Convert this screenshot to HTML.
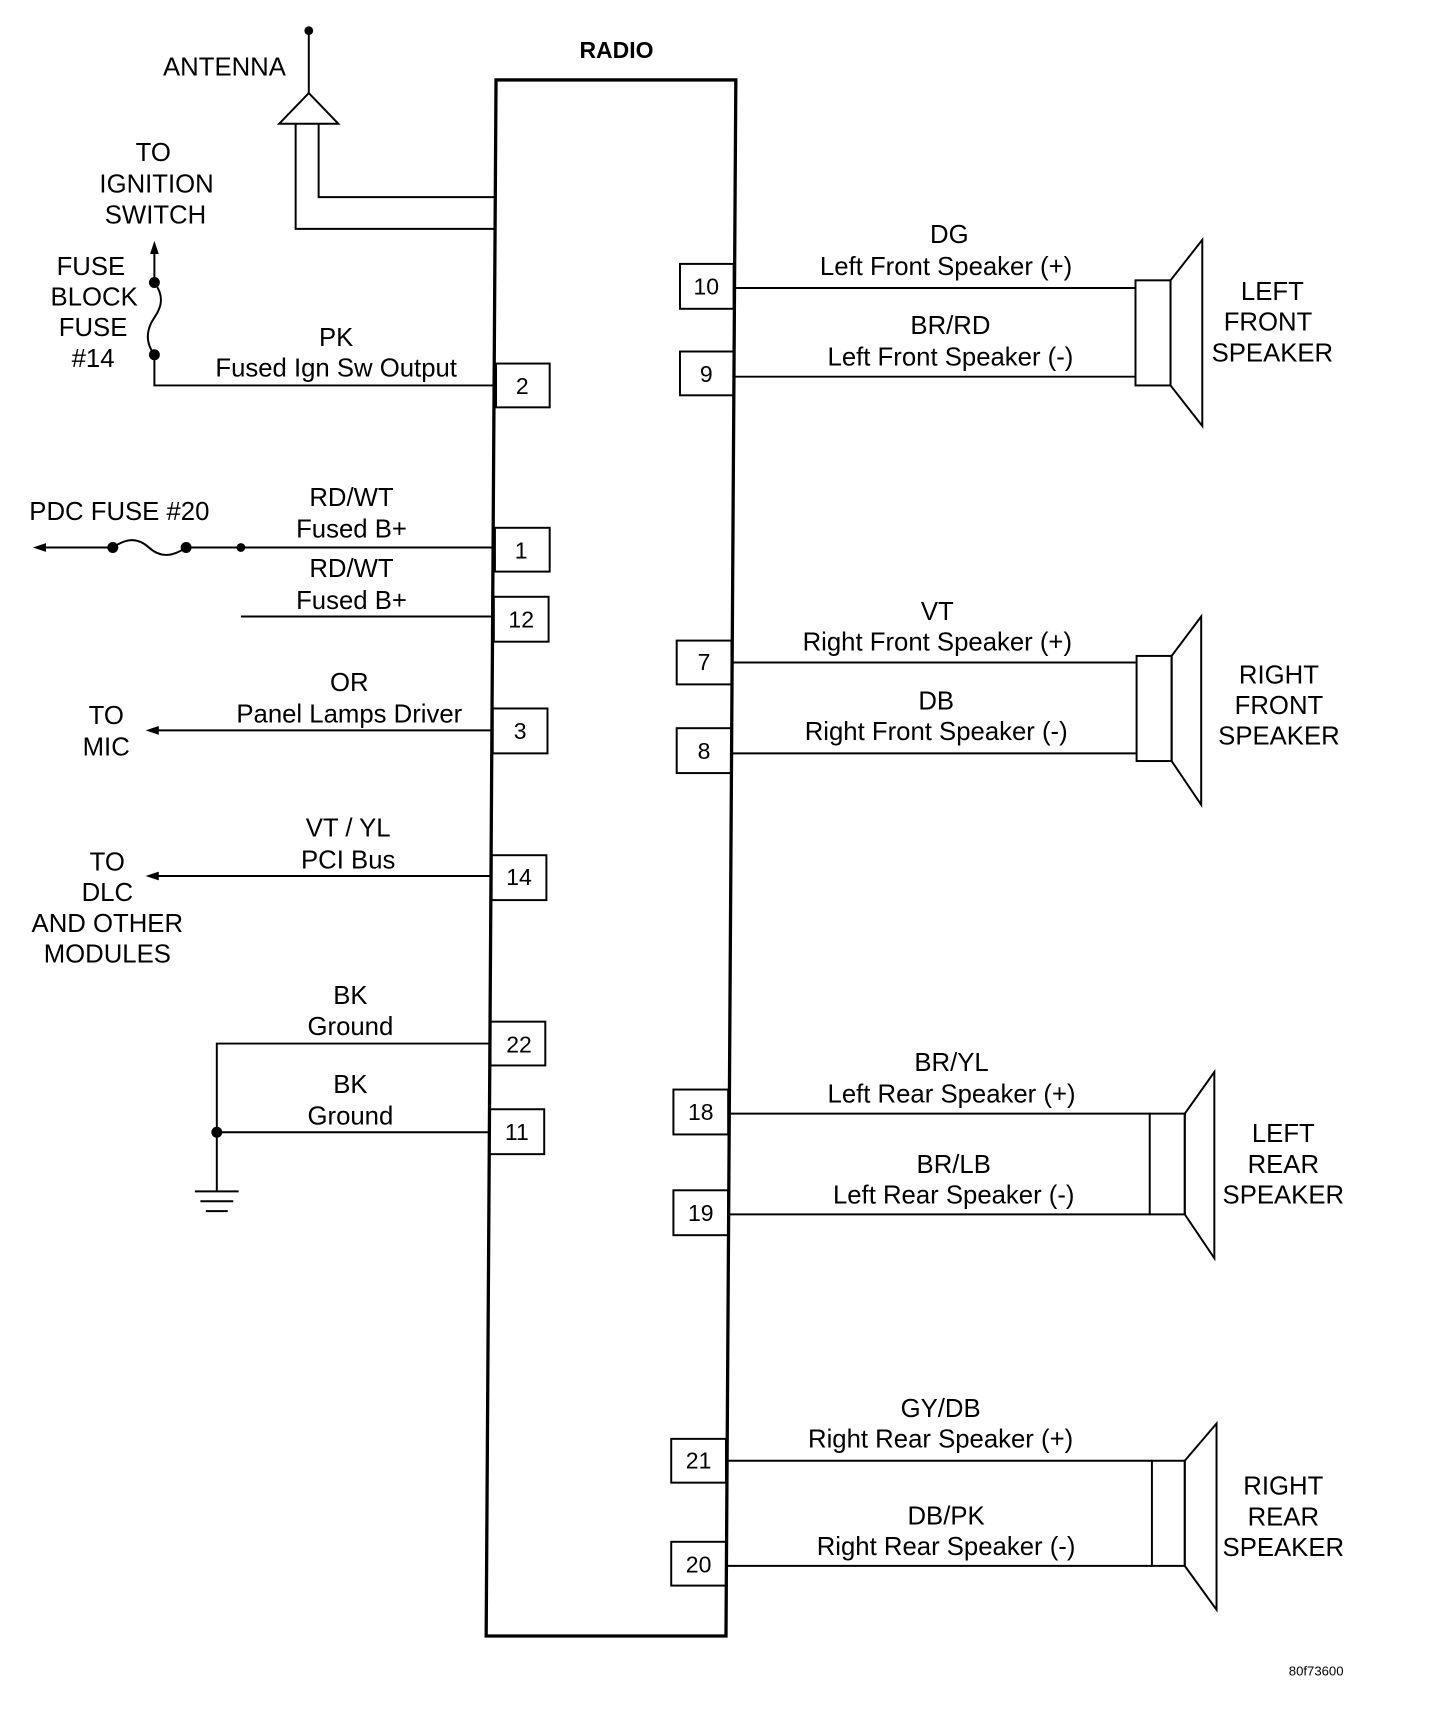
<!DOCTYPE html>
<html><head><style>
html,body{margin:0;padding:0;background:#fff;}
svg{display:block;}
text{font-family:"Liberation Sans",Arial,sans-serif;fill:#000;}
</style></head><body>
<svg width="1456" height="1724" viewBox="0 0 1329.7 1574.4" preserveAspectRatio="none" xmlns="http://www.w3.org/2000/svg">
<g fill="none" stroke="#000" stroke-width="1.8">
<polygon points="453,73 672,73 663,1494 444,1494" stroke-width="3"/>
<line x1="282" y1="28" x2="282" y2="85"/>
<polygon points="282,85 255,113 309,113"/>
<polyline points="270,113 270,209 453,209"/>
<polyline points="291,113 291,180 453,180"/>
<line x1="141" y1="258" x2="141" y2="226"/>
<path d="M141,258 C150,270 148,280 141,290 C134,300 132,312 141,324"/>
<polyline points="141,324 141,352 453,352"/>
<line x1="36" y1="500" x2="103" y2="500"/>
<path d="M103,500 C115,492 125,490 136,500 C147,510 158,508 170,500"/>
<line x1="170" y1="500" x2="452" y2="500"/>
<line x1="220" y1="563" x2="451" y2="563"/>
<line x1="140" y1="667" x2="450" y2="667"/>
<line x1="140" y1="800" x2="449" y2="800"/>
<polyline points="448,953 198,953 198,1088"/>
<line x1="198" y1="1034" x2="447" y2="1034"/>
<line x1="178" y1="1088" x2="218" y2="1088"/>
<line x1="183" y1="1097" x2="213" y2="1097"/>
<line x1="188" y1="1106" x2="208" y2="1106"/>
<rect x="453" y="332" width="49" height="40"/>
<rect x="452" y="482" width="50" height="40"/>
<rect x="451" y="545" width="50" height="41"/>
<rect x="450" y="647" width="50" height="41"/>
<rect x="449" y="781" width="50" height="41"/>
<rect x="448" y="933" width="50" height="40"/>
<rect x="447" y="1013" width="50" height="41"/>
<rect x="621" y="241" width="49" height="41"/>
<rect x="621" y="321" width="49" height="40"/>
<rect x="618" y="585" width="50" height="40"/>
<rect x="618" y="665" width="50" height="41"/>
<rect x="615" y="995" width="50" height="41"/>
<rect x="615" y="1087" width="50" height="41"/>
<rect x="613" y="1314" width="50" height="40"/>
<rect x="613" y="1408" width="50" height="40"/>
<line x1="670" y1="263" x2="1037" y2="263"/>
<line x1="670" y1="344" x2="1037" y2="344"/>
<line x1="668" y1="605" x2="1038" y2="605"/>
<line x1="668" y1="688" x2="1038" y2="688"/>
<line x1="665" y1="1017" x2="1050" y2="1017"/>
<line x1="665" y1="1109" x2="1050" y2="1109"/>
<line x1="663" y1="1334" x2="1052" y2="1334"/>
<line x1="663" y1="1430" x2="1052" y2="1430"/>
<rect x="1037" y="256" width="32" height="96"/>
<polygon points="1069,256 1098,219 1098,389 1069,352"/>
<rect x="1038" y="599" width="32" height="96"/>
<polygon points="1070,599 1097,563 1097,735 1070,695"/>
<rect x="1050" y="1017" width="32" height="92"/>
<polygon points="1082,1017 1109,979 1109,1149 1082,1109"/>
<rect x="1052" y="1334" width="30" height="96"/>
<polygon points="1082,1334 1111,1300 1111,1470 1082,1430"/>
</g>
<g fill="#000">
<circle cx="282" cy="28" r="4"/>
<circle cx="141" cy="258" r="5"/>
<circle cx="141" cy="324" r="5"/>
<polygon points="141,220 137,232 145,232"/>
<polygon points="30,500 42,496 42,504"/>
<circle cx="103" cy="500" r="5"/>
<circle cx="170" cy="500" r="5"/>
<circle cx="220" cy="500" r="4"/>
<polygon points="133,667 145,663 145,671"/>
<polygon points="133,800 145,796 145,804"/>
<circle cx="198" cy="1034" r="5"/>
</g>
<g font-size="23.5" text-anchor="middle">
<text x="563" y="53" font-weight="bold" font-size="21">RADIO</text>
<text x="205" y="69">ANTENNA</text>
<text x="140" y="147">TO</text>
<text x="143" y="176">IGNITION</text>
<text x="142" y="204">SWITCH</text>
<text x="83" y="251">FUSE</text>
<text x="86" y="279">BLOCK</text>
<text x="85" y="307">FUSE</text>
<text x="85" y="335">#14</text>
<text x="307" y="316">PK</text>
<text x="307" y="344">Fused Ign Sw Output</text>
<text x="109" y="475">PDC FUSE #20</text>
<text x="321" y="462">RD/WT</text>
<text x="321" y="491">Fused B+</text>
<text x="321" y="527">RD/WT</text>
<text x="321" y="556">Fused B+</text>
<text x="319" y="631">OR</text>
<text x="319" y="660">Panel Lamps Driver</text>
<text x="97" y="661">TO</text>
<text x="97" y="690">MIC</text>
<text x="318" y="764">VT / YL</text>
<text x="318" y="793">PCI Bus</text>
<text x="98" y="795">TO</text>
<text x="98" y="823">DLC</text>
<text x="98" y="851">AND OTHER</text>
<text x="98" y="879">MODULES</text>
<text x="320" y="917">BK</text>
<text x="320" y="945">Ground</text>
<text x="320" y="998">BK</text>
<text x="320" y="1027">Ground</text>
<g font-size="21">
<text x="477" y="360">2</text>
<text x="476" y="510">1</text>
<text x="476" y="573">12</text>
<text x="475" y="675">3</text>
<text x="474" y="808">14</text>
<text x="474" y="961">22</text>
<text x="472" y="1041">11</text>
<text x="645" y="269">10</text>
<text x="645" y="349">9</text>
<text x="643" y="612">7</text>
<text x="643" y="693">8</text>
<text x="640" y="1023">18</text>
<text x="640" y="1115">19</text>
<text x="638" y="1341">21</text>
<text x="638" y="1436">20</text>
</g>
<text x="867" y="222">DG</text>
<text x="864" y="251">Left Front Speaker (+)</text>
<text x="868" y="305">BR/RD</text>
<text x="868" y="334">Left Front Speaker (-)</text>
<text x="856" y="566">VT</text>
<text x="856" y="594">Right Front Speaker (+)</text>
<text x="855" y="648">DB</text>
<text x="855" y="676">Right Front Speaker (-)</text>
<text x="869" y="978">BR/YL</text>
<text x="869" y="1007">Left Rear Speaker (+)</text>
<text x="871" y="1071">BR/LB</text>
<text x="871" y="1099">Left Rear Speaker (-)</text>
<text x="859" y="1294">GY/DB</text>
<text x="859" y="1322">Right Rear Speaker (+)</text>
<text x="864" y="1392">DB/PK</text>
<text x="864" y="1420">Right Rear Speaker (-)</text>
<text x="1162" y="274">LEFT</text>
<text x="1158" y="302">FRONT</text>
<text x="1162" y="330">SPEAKER</text>
<text x="1168" y="624">RIGHT</text>
<text x="1168" y="652">FRONT</text>
<text x="1168" y="680">SPEAKER</text>
<text x="1172" y="1043">LEFT</text>
<text x="1172" y="1071">REAR</text>
<text x="1172" y="1099">SPEAKER</text>
<text x="1172" y="1365">RIGHT</text>
<text x="1172" y="1393">REAR</text>
<text x="1172" y="1421">SPEAKER</text>
<text x="1202" y="1530" font-size="12">80f73600</text>
</g>
</svg>
</body></html>
